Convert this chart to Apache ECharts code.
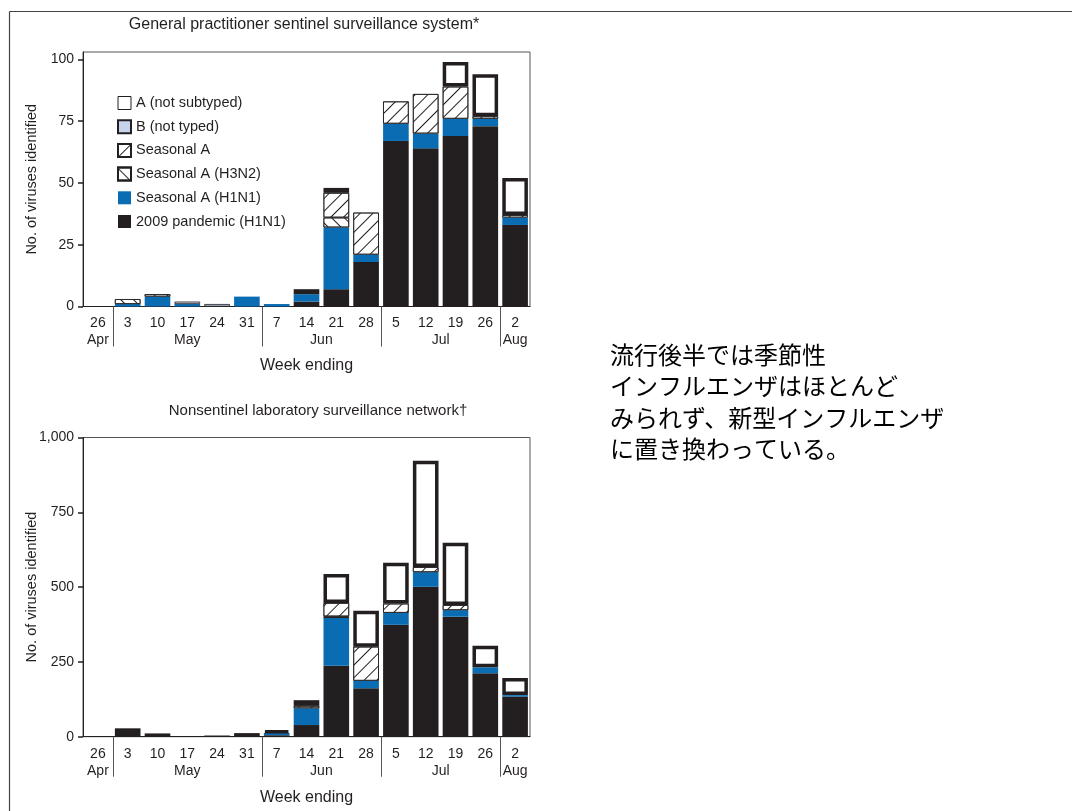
<!DOCTYPE html>
<html>
<head>
<meta charset="utf-8">
<script src="https://cdn.jsdelivr.net/npm/echarts@6/dist/echarts.min.js"></script>
<style>
  html, body { margin: 0; padding: 0; background: #fff; }
  #chart { width: 1072px; height: 811px; }
</style>
</head>
<body>
<div id="chart"></div>
<script>
// Week-ending dates (2009) and the month each run of weeks belongs to
const weekLabels = ['26', '3', '10', '17', '24', '31', '7', '14', '21', '28', '5', '12', '19', '26', '2'];
const monthNames = ['Apr', 'May', 'Jun', 'Jul', 'Aug'];
const monthStartIndex = [0, 1, 6, 10, 14];

// Virus types, stacked from the bottom up
const typeNames = ['2009 pandemic (H1N1)', 'Seasonal A (H1N1)', 'Seasonal A (H3N2)', 'Seasonal A', 'B (not typed)', 'A (not subtyped)'];
const legendOrder = ['A (not subtyped)', 'B (not typed)', 'Seasonal A', 'Seasonal A (H3N2)', 'Seasonal A (H1N1)', '2009 pandemic (H1N1)'];

// General practitioner sentinel surveillance system
const gpPandemic     = [null, null, null, null, null, null, null, 2, 7, 18, 67, 64, 69, 73, 33];
const gpSeasonalH1N1 = [null, 1, 4, 1, null, 4, 1, 3, 25, 3, 7, 6, 7, 3, 3];
const gpSeasonalH3N2 = [null, 2, 1, null, null, null, null, null, 4, null, null, null, null, null, null];
const gpSeasonalA    = [null, null, null, null, null, null, null, null, 10, 17, 9, 16, 13, 1, 1];
const gpBNotTyped    = [null, null, null, 1, 1, null, null, null, null, null, null, null, null, null, null];
const gpANotSubtyped = [null, null, null, null, null, null, null, 2, 2, null, null, null, 10, 17, 15];
const gpTicks = [0, 25, 50, 75, 100];

// Nonsentinel laboratory surveillance network
const labPandemic     = [null, 28, 11, null, 4, 12, 5, 39, 237, 162, 374, 501, 401, 212, 134];
const labSeasonalH1N1 = [null, null, null, null, null, null, 8, 56, 160, 25, 40, 49, 22, 20, 5];
const labSeasonalH3N2 = [null, null, null, null, null, null, null, null, 5, null, null, null, null, null, null];
const labSeasonalA    = [null, null, null, null, null, null, null, 8, 45, 114, 31, 17, 17, null, null];
const labBNotTyped    = [null, null, null, null, null, null, null, null, null, null, null, null, null, null, null];
const labANotSubtyped = [null, null, null, null, null, null, 7, 19, 97, 120, 136, 355, 208, 72, 57];
const labTicks = [0, 250, 500, 750, 1000];

const noteLines = ['流行後半では季節性', 'インフルエンザはほとんど', 'みられず、新型インフルエンザ', 'に置き換わっている。'];

const INK = '#231f20';
const FONT = '"Liberation Sans", Arial, Helvetica, sans-serif';

function hatch(rotation) {
  return { symbol: 'rect', symbolSize: 1, dashArrayX: [1, 0], dashArrayY: [1, 8], rotation: rotation, color: INK };
}
const typeStyles = {
  '2009 pandemic (H1N1)': { color: INK },
  'Seasonal A (H1N1)': { color: '#0a6db3' },
  'Seasonal A (H3N2)': { color: '#fff', borderColor: INK, borderWidth: 0.8, decal: hatch(Math.PI / 4) },
  'Seasonal A': { color: '#fff', borderColor: INK, borderWidth: 0.8, decal: hatch(-Math.PI / 4) },
  'B (not typed)': { color: '#c6d4ec', borderColor: INK, borderWidth: 0.8 },
  'A (not subtyped)': { color: '#fff', borderColor: INK, borderWidth: 3.5 }
};

// Month label positions sit mid-way along each month's weeks; separators at month starts
const monthCenters = monthStartIndex.map((s, i) => {
  const e = i + 1 < monthStartIndex.length ? monthStartIndex[i + 1] : weekLabels.length;
  return (s + e) / 2;
});
const monthSeparators = monthStartIndex.slice(1);

function makeSeries(gridIndex, valueSets) {
  return typeNames.map((name, k) => ({
    name: name,
    type: 'bar',
    xAxisIndex: gridIndex * 2,
    yAxisIndex: gridIndex,
    stack: 'panel' + gridIndex,
    barCategoryGap: '14%',
    itemStyle: typeStyles[name],
    emphasis: { disabled: true },
    data: valueSets[k]
  }));
}

function dayAxis(gridIndex) {
  return {
    type: 'category', gridIndex: gridIndex, position: 'bottom', data: weekLabels,
    axisLine: { lineStyle: { color: INK, width: 1 } },
    axisTick: { alignWithLabel: true, length: 5, lineStyle: { color: INK } },
    axisLabel: { color: INK, fontSize: 14, fontFamily: FONT, margin: 10, interval: 0 },
    splitLine: { show: false }
  };
}
function monthAxis(gridIndex, nameGap) {
  return {
    type: 'value', gridIndex: gridIndex, position: 'bottom', min: 0, max: weekLabels.length,
    axisLine: { show: false },
    axisTick: { show: true, customValues: monthSeparators, length: 40, lineStyle: { color: '#555', width: 1 } },
    axisLabel: {
      customValues: monthCenters, color: INK, fontSize: 14, fontFamily: FONT, margin: 27,
      formatter: v => monthNames[monthCenters.findIndex(c => Math.abs(c - v) < 1e-6)]
    },
    splitLine: { show: false },
    name: 'Week ending', nameLocation: 'middle', nameGap: nameGap, nameMoveOverlap: false,
    nameTextStyle: { color: INK, fontSize: 16, fontFamily: FONT }
  };
}
function countAxis(gridIndex, max, ticks) {
  return {
    type: 'value', gridIndex: gridIndex, min: 0, max: max,
    axisLine: { show: true, lineStyle: { color: INK, width: 1 } },
    axisTick: { show: true, customValues: ticks, length: 5, lineStyle: { color: INK, width: 1.5 } },
    axisLabel: {
      customValues: ticks, color: INK, fontSize: 14, fontFamily: FONT, margin: 9,
      formatter: v => Number(v).toLocaleString('en-US')
    },
    splitLine: { show: false },
    name: 'No. of viruses identified', nameLocation: 'middle', nameGap: 44, nameMoveOverlap: false,
    nameTextStyle: { color: INK, fontSize: 14.5, fontFamily: FONT }
  };
}

const chart = echarts.init(document.getElementById('chart'), null, { renderer: 'canvas' });
chart.setOption({
  animation: false,
  backgroundColor: '#fff',
  grid: [
    { left: 83, right: 542, top: 52, bottom: 504.5, show: true, borderColor: '#555', borderWidth: 1 },
    { left: 83, right: 542, top: 437.5, bottom: 74.3, show: true, borderColor: '#555', borderWidth: 1 }
  ],
  xAxis: [dayAxis(0), monthAxis(0, 51), dayAxis(1), monthAxis(1, 53)],
  yAxis: [countAxis(0, 103, gpTicks), countAxis(1, 1000, labTicks)],
  legend: {
    orient: 'vertical', left: 112, top: 90.5,
    itemWidth: 13, itemHeight: 13, itemGap: 8.7,
    icon: 'rect', selectedMode: false,
    textStyle: { color: INK, fontSize: 14.5, fontFamily: FONT },
    data: legendOrder.map(n => n === 'A (not subtyped)'
      ? { name: n, itemStyle: { borderWidth: 1 } }
      : { name: n })
  },
  series: [].concat(
    makeSeries(0, [gpPandemic, gpSeasonalH1N1, gpSeasonalH3N2, gpSeasonalA, gpBNotTyped, gpANotSubtyped]),
    makeSeries(1, [labPandemic, labSeasonalH1N1, labSeasonalH3N2, labSeasonalA, labBNotTyped, labANotSubtyped])
  ),
  graphic: [
    { type: 'line', shape: { x1: 9.5, y1: 11.5, x2: 1072, y2: 11.5 }, style: { stroke: '#444', lineWidth: 1.2 }, silent: true },
    { type: 'line', shape: { x1: 9.5, y1: 11.5, x2: 9.5, y2: 811 }, style: { stroke: '#444', lineWidth: 1.2 }, silent: true },
    { type: 'text', x: 304, y: 25, style: { text: 'General practitioner sentinel surveillance system*', align: 'center', verticalAlign: 'middle', fill: INK, font: '16px ' + FONT } },
    { type: 'text', x: 318, y: 411, style: { text: 'Nonsentinel laboratory surveillance network†', align: 'center', verticalAlign: 'middle', fill: INK, font: '15px ' + FONT } },
    { type: 'text', x: 610, y: 339, style: { text: noteLines.join('\n'), fill: '#000', font: '24px "Noto Sans CJK JP", sans-serif', lineHeight: 31.5 } }
  ]
});
</script>
</body>
</html>
